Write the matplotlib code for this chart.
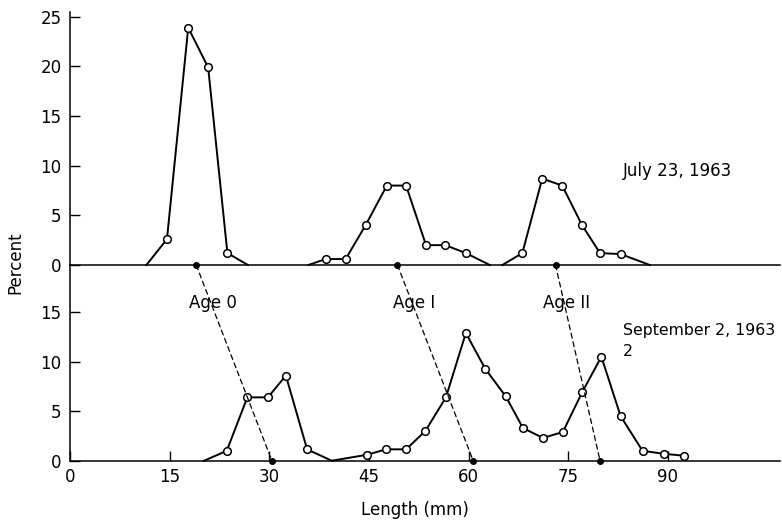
import matplotlib.pyplot as plt
from matplotlib.patches import ConnectionPatch

# July 23, 1963 length-frequency (mm, percent)
july_len = [11.5, 14.6, 17.8, 20.8, 23.7, 26.8,
            35.9, 38.5, 41.5, 44.5, 47.7, 50.6, 53.6, 56.5, 59.6, 63.2,
            65.1, 68.1, 71.1, 74.1, 77.1, 79.8, 82.9, 87.3]
july_pct = [0, 2.6, 23.9, 19.9, 1.2, 0,
            0, 0.6, 0.6, 4.0, 8.0, 8.0, 2.0, 2.0, 1.2, 0,
            0, 1.2, 8.7, 8.0, 4.0, 1.2, 1.1, 0]
# segments of the July curve (start/stop indices)
july_groups = [(0, 6), (6, 16), (16, 24)]

# September 2, 1963
sept_len = [20.2, 23.6, 26.7, 29.8, 32.5, 35.7, 39.4, 44.7, 47.6, 50.6, 53.5,
            56.6, 59.6, 62.5, 65.6, 68.2, 71.2, 74.2, 77.1, 80.0, 82.9, 86.2,
            89.4, 92.5]
sept_pct = [0, 1.0, 6.4, 6.4, 8.6, 1.15, 0, 0.6, 1.15, 1.15, 3.0,
            6.4, 12.9, 9.3, 6.5, 3.3, 2.3, 2.9, 6.9, 10.5, 4.5, 1.0,
            0.7, 0.5]

# modal lengths of each age class
age_labels = ["Age 0", "Age I", "Age II"]
july_modes = [19.0, 49.3, 73.1]
sept_modes = [30.4, 60.7, 79.8]

plt.rcParams['font.family'] = ['DejaVu Sans']

fig = plt.figure(figsize=(7.82, 5.26), dpi=100)
ax_top = fig.add_axes([0.0895, 0.4962, 0.908, 0.481])
ax_bot = fig.add_axes([0.0895, 0.1241, 0.908, 0.3722])

xmax = 106.9
for ax in (ax_top, ax_bot):
    ax.set_xlim(0, xmax)
    ax.patch.set_visible(False)
    for s in ("top", "right"):
        ax.spines[s].set_visible(False)
    ax.spines["left"].set_linewidth(1.1)
    ax.spines["bottom"].set_linewidth(1.1)
    ax.tick_params(direction="in", length=7, width=1, labelsize=12, pad=6)

ax_top.set_ylim(0, 25.48)
ax_top.set_yticks([0, 5, 10, 15, 20, 25])
ax_top.set_xticks([])
ax_bot.set_ylim(0, 19.77)
ax_bot.set_yticks([0, 5, 10, 15])
ax_bot.set_xticks([0, 15, 30, 45, 60, 75, 90])
ax_bot.tick_params(axis="x", pad=5)

mk = dict(marker="o", ms=5.5, mfc="white", mec="black", mew=1.1, ls="none")

for a, b in july_groups:
    xs = july_len[a:b]
    ys = july_pct[a:b]
    ax_top.plot(xs, ys, color="black", lw=1.4, zorder=3, clip_on=False)
    ax_top.plot(xs[1:-1], ys[1:-1], zorder=4, **mk)

ax_bot.plot(sept_len, sept_pct, color="black", lw=1.4, zorder=3, clip_on=False)
ax_bot.plot([x for x, y in zip(sept_len, sept_pct) if y > 0],
            [y for y in sept_pct if y > 0], zorder=4, clip_on=False, **mk)

# modal points and dashed progression lines
ax_top.plot(july_modes, [0] * 3, "o", color="black", ms=4, clip_on=False, zorder=5)
ax_bot.plot(sept_modes, [0] * 3, "o", color="black", ms=4, clip_on=False, zorder=5)
for xj, xs in zip(july_modes, sept_modes):
    con = ConnectionPatch(xyA=(xj, 0), coordsA=ax_top.transData,
                          xyB=(xs, 0), coordsB=ax_bot.transData,
                          ls=(0, (4, 3)), lw=0.9, color="black", zorder=2)
    fig.add_artist(con)

for lab, x in zip(age_labels, [213, 414, 567]):
    fig.text(x / 782, 1 - 303 / 526, lab, ha="center", va="center", fontsize=12)

fig.text(623 / 782, 1 - 171 / 526, "July 23, 1963", ha="left", va="center", fontsize=12)
fig.text(623 / 782, 1 - 331 / 526, "September 2, 1963", ha="left", va="center", fontsize=11.3)
fig.text(623 / 782, 1 - 352 / 526, "2", ha="left", va="center", fontsize=11.3)

fig.text(15 / 782, 1 - 263 / 526, "Percent", rotation=90, ha="center", va="center", fontsize=12)
fig.text(415 / 782, 1 - 510 / 526, "Length (mm)", ha="center", va="center", fontsize=12)

fig.savefig("out.png", dpi=100)
